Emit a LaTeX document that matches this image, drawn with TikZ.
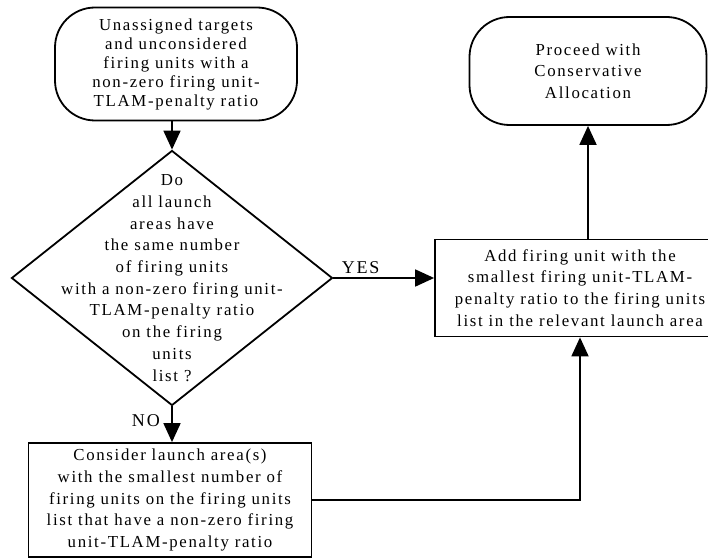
\documentclass[tikz,border=0pt]{standalone}
\usepackage{fontspec}
\setmainfont{Liberation Serif}[LetterSpace=10]
\usetikzlibrary{shapes.geometric,arrows.meta}
\tikzset{
	term/.style={draw,line width=1.8pt,rounded corners=40pt,inner sep=0pt,align=center},
	procbox/.style={draw,line width=1.8pt,inner sep=0pt,align=center},
	decision/.style={draw,diamond,line width=1.8pt,inner sep=0pt},
	flow/.style={line width=1.8pt,-{Triangle[width=17pt,length=19pt]}},
	lbl/.style={font=\fontsize{18}{20}\selectfont}
}
\begin{document}
\begin{tikzpicture}[x=1pt,y=-1pt,font=\fontsize{16.8}{21.7}\selectfont]
	\useasboundingbox[fill=white] (0,0) rectangle (708,559);
	% terminals
	\node[term,minimum width=242pt,minimum height=113pt,font=\fontsize{16.8}{19}\selectfont] (tgt) at (176,64) {Unassigned targets\\and unconsidered\\firing units with a\\non-zero firing unit-\\TLAM-penalty ratio};
	\node[term,minimum width=237pt,minimum height=108pt] (done) at (588,71) {Proceed with\\Conservative\\Allocation};
	% decision
	\node[decision,minimum width=321pt,minimum height=255pt] (dec) at (172,278) {};
	\node[align=center] (dectxt) at (dec.center) {Do\\all launch\\areas have\\the same number\\of firing units\\with a non-zero firing unit-\\TLAM-penalty ratio\\on the firing\\units\\list ?};
	% boxes
	\node[procbox,minimum width=290pt,minimum height=97pt] (add) at (580,288) {Add firing unit with the\\smallest firing unit-TLAM-\\penalty ratio to the firing units\\list in the relevant launch area};
	\node[procbox,minimum width=283pt,minimum height=114pt] (con) at (170,500) {Consider launch area(s)\\with the smallest number of\\firing units on the firing units\\list that have a non-zero firing\\unit-TLAM-penalty ratio};
	% connectors
	\draw[flow] (dec.north |- tgt.south) -- (dec.north);
	\draw[flow] (dec.east) -- node[lbl,above,pos=0.27] (yes) {YES} (dec.east -| add.west);
	\draw[flow] (dec.south) -- node[lbl,left,pos=0.4,xshift=-8pt] (no) {NO} (dec.south |- con.north);
	\draw[flow] (con.east) -| (add.south);
	\draw[flow] (add.north -| done.south) -- (done.south);
\end{tikzpicture}
\end{document}
